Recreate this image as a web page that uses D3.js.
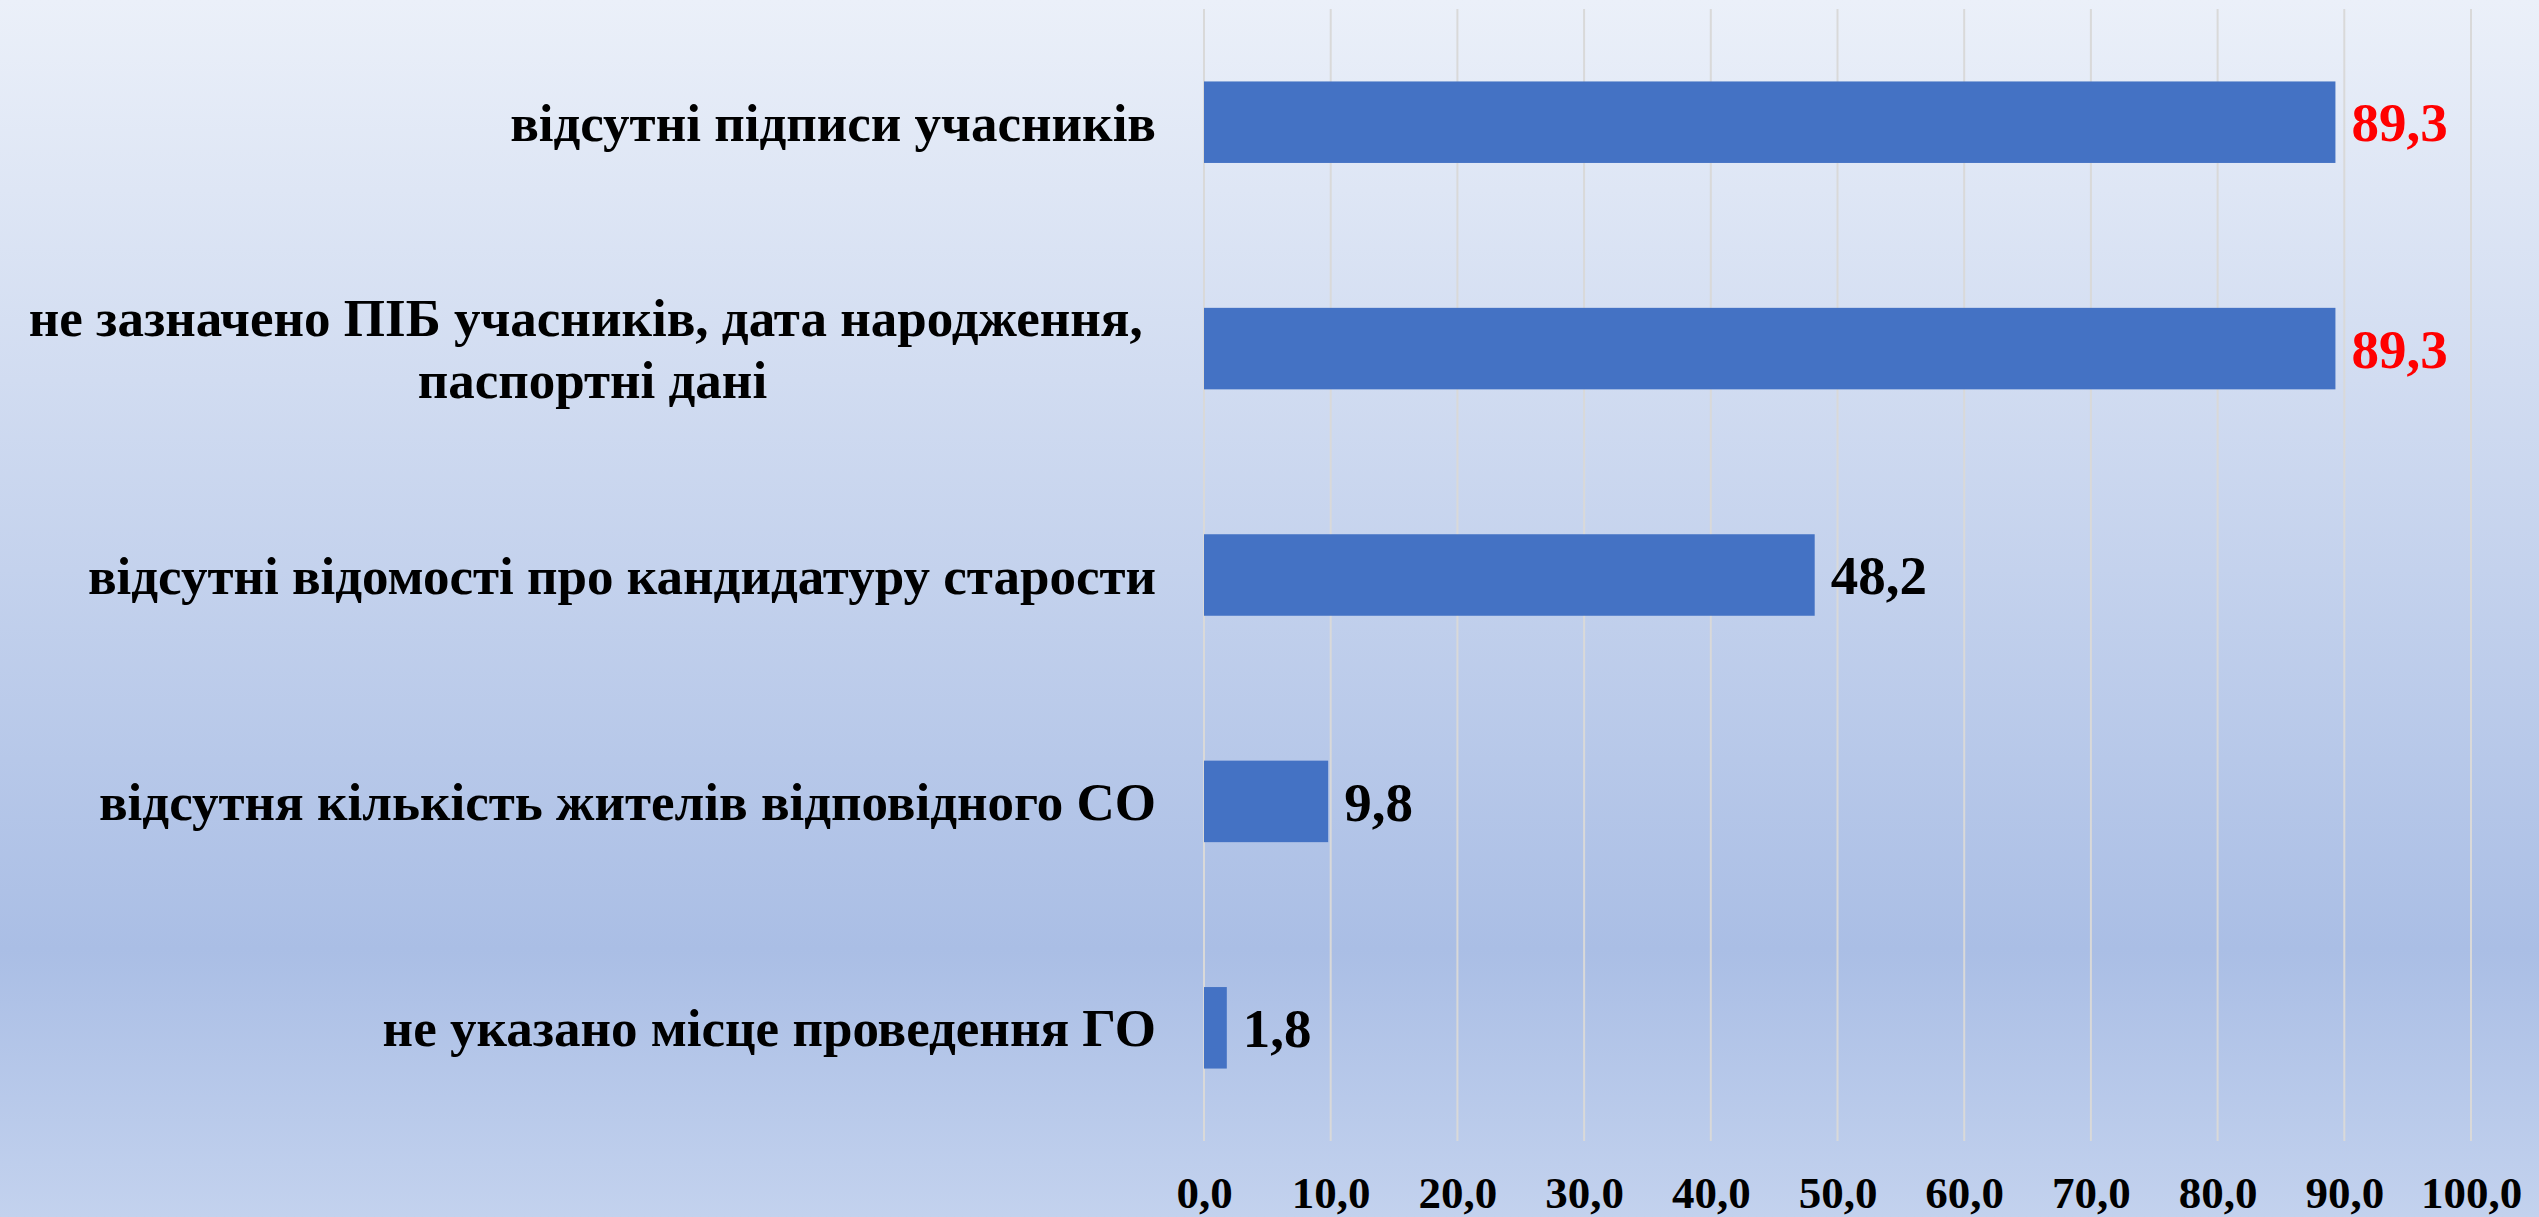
<!DOCTYPE html>
<html>
<head>
<meta charset="utf-8">
<script src="https://cdn.jsdelivr.net/npm/d3@7"></script>
<style>
  html, body { margin: 0; padding: 0; overflow: hidden; }
  svg { display: block; }
</style>
</head>
<body>
<script>
// ---- data ----
const categories = [
  ["відсутні підписи учасників"],
  ["не зазначено ПІБ учасників, дата народження, ", "паспортні дані"],
  ["відсутні відомості про кандидатуру старости"],
  ["відсутня кількість жителів відповідного СО"],
  ["не указано місце проведення ГО"]
];
const values = [89.3, 89.3, 48.2, 9.8, 1.8];
const highlight = [true, true, false, false, false];
const tickValues = [0, 10, 20, 30, 40, 50, 60, 70, 80, 90, 100];

// ---- layout ----
const W = 2539, H = 1217;
const plot = { left: 1204, right: 2471, top: 9, bottom: 1141 };
const FONT = '"Liberation Serif", "Times New Roman", serif';
const CAT_SIZE = 53;

const svg = d3.select("body").append("svg").attr("width", W).attr("height", H);

const defs = svg.append("defs");
const grad = defs.append("linearGradient").attr("id", "bg")
  .attr("x1", 0).attr("y1", 0).attr("x2", 0).attr("y2", 1);
grad.append("stop").attr("offset", "0%").attr("stop-color", "#ebf0f9");
grad.append("stop").attr("offset", "78%").attr("stop-color", "#aabee5");
grad.append("stop").attr("offset", "100%").attr("stop-color", "#c3d2ee");
svg.append("rect").attr("width", W).attr("height", H).attr("fill", "url(#bg)");

const x = d3.scaleLinear().domain([0, 100]).range([plot.left, plot.right]);
const y = d3.scaleBand().domain(d3.range(categories.length))
  .range([plot.top, plot.bottom]).paddingInner(0.64).paddingOuter(0.32);

// gridlines
svg.append("g").selectAll("line").data(tickValues).join("line")
  .attr("x1", d => x(d)).attr("x2", d => x(d))
  .attr("y1", plot.top).attr("y2", plot.bottom)
  .attr("stroke", "#d9d9d9").attr("stroke-width", 2);

// x axis labels
const xAxis = d3.axisBottom(x).tickValues(tickValues)
  .tickFormat(d => d3.format(".1f")(d).replace(".", ","))
  .tickSize(0).tickPadding(0);
const gx = svg.append("g").attr("transform", `translate(0,${plot.bottom})`).call(xAxis);
gx.select(".domain").remove();
gx.selectAll("text")
  .attr("font-family", FONT).attr("font-weight", "bold").attr("font-size", 45)
  .attr("fill", "#000").attr("dy", null).attr("y", 67);

// bars
svg.append("g").selectAll("rect").data(values).join("rect")
  .attr("x", x(0)).attr("y", (d, i) => y(i))
  .attr("width", d => x(d) - x(0)).attr("height", y.bandwidth())
  .attr("fill", "#4472c4");

// value labels
svg.append("g").selectAll("text").data(values).join("text")
  .attr("x", d => x(d) + 16)
  .attr("y", (d, i) => y(i) + y.bandwidth() / 2)
  .attr("dy", "0.35em")
  .attr("font-family", FONT).attr("font-weight", "bold").attr("font-size", 55)
  .attr("fill", (d, i) => highlight[i] ? "#ff0000" : "#000")
  .text(d => d3.format(".1f")(d).replace(".", ","));

// category labels
const labelRight = 1156;
const lineH = 62;
const cg = svg.append("g");
categories.forEach((lines, i) => {
  const cy = y(i) + y.bandwidth() / 2;
  const t = cg.append("text")
    .attr("font-family", FONT).attr("font-weight", "bold").attr("font-size", CAT_SIZE)
    .attr("fill", "#000").attr("xml:space", "preserve");
  if (lines.length === 1) {
    t.attr("x", labelRight).attr("y", cy).attr("dy", "0.35em")
      .attr("text-anchor", "end").text(lines[0]);
  } else {
    const tmp = cg.append("text").attr("font-family", FONT).attr("font-weight", "bold")
      .attr("font-size", CAT_SIZE).attr("xml:space", "preserve").text(lines[0]);
    const w = tmp.node().getComputedTextLength();
    tmp.remove();
    const cx = labelRight - w / 2;
    lines.forEach((ln, k) => {
      t.append("tspan").attr("x", cx).attr("text-anchor", "middle")
        .attr("y", cy + (k - (lines.length - 1) / 2) * lineH).attr("dy", "0.35em")
        .text(ln);
    });
  }
});
</script>
</body>
</html>
